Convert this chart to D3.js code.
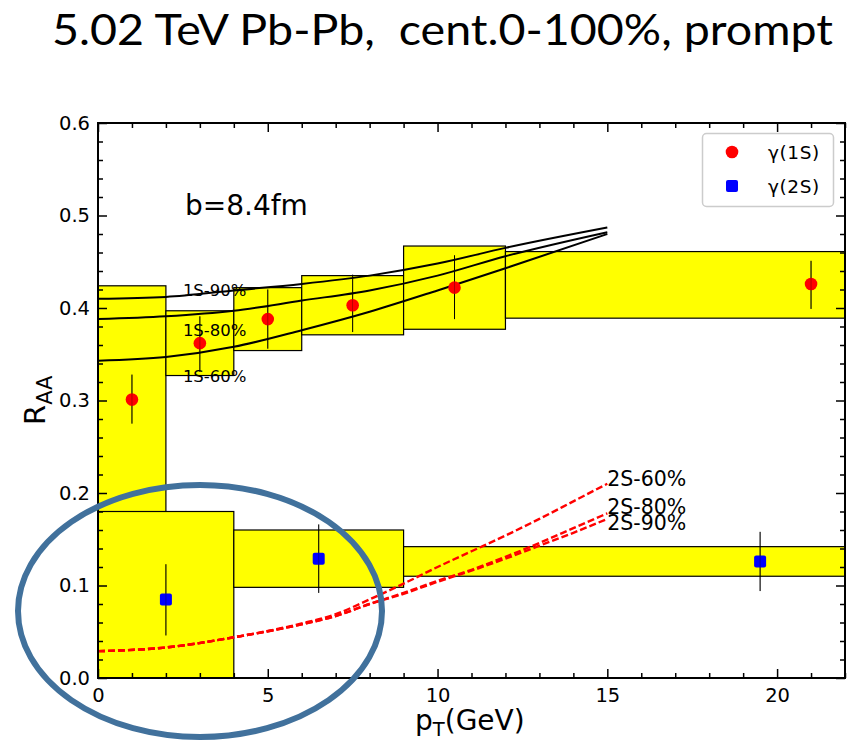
<!DOCTYPE html>
<html>
<head>
<meta charset="utf-8">
<script src="https://cdn.jsdelivr.net/npm/d3@7"></script>
<style>
  html, body { margin: 0; padding: 0; background: #fff; }
  svg text { font-family: "DejaVu Sans", sans-serif; }
</style>
</head>
<body>
<svg id="chart" width="857" height="744"></svg>
<script>
// ---------------- data ----------------
const titleText = "5.02 TeV Pb-Pb,  cent.0-100%, prompt";
const annotation = "b=8.4fm";

// 1S systematic boxes
const box1S_x0 = [0, 2, 4, 6, 9, 12];
const box1S_x1 = [2, 4, 6, 9, 12, 22];
const box1S_lo = [0.179, 0.327, 0.354, 0.371, 0.377, 0.389];
const box1S_hi = [0.424, 0.397, 0.422, 0.435, 0.467, 0.461];

// 2S systematic boxes
const box2S_x0 = [0, 4, 9];
const box2S_x1 = [4, 9, 22];
const box2S_lo = [0.0, 0.098, 0.110];
const box2S_hi = [0.180, 0.160, 0.142];

// 1S points
const pt1S = [1, 3, 5, 7.5, 10.5, 21];
const raa1S = [0.301, 0.362, 0.388, 0.403, 0.422, 0.426];
const err1S_lo = [0.275, 0.331, 0.356, 0.374, 0.388, 0.399];
const err1S_hi = [0.328, 0.391, 0.420, 0.436, 0.457, 0.451];

// 2S points
const pt2S = [2, 6.5, 19.5];
const raa2S = [0.085, 0.129, 0.126];
const err2S_lo = [0.046, 0.092, 0.094];
const err2S_hi = [0.123, 0.166, 0.158];

// model curves
const curve1S_pt = [0, 2, 4, 6, 8, 10, 12, 15];
const curve1S_90 = [0.410, 0.412, 0.419, 0.426, 0.435, 0.448, 0.465, 0.487];
const curve1S_80 = [0.388, 0.391, 0.397, 0.408, 0.419, 0.435, 0.456, 0.482];
const curve1S_60 = [0.343, 0.347, 0.358, 0.376, 0.396, 0.419, 0.443, 0.480];

const curve2S_pt = [0, 2, 4, 6, 7, 8, 9, 10, 11, 12, 13, 14, 15];
const curve2S_60 = [0.029, 0.033, 0.044, 0.059, 0.069, 0.085, 0.102, 0.120, 0.137, 0.154, 0.172, 0.191, 0.210];
const curve2S_80 = [0.029, 0.033, 0.044, 0.058, 0.067, 0.080, 0.092, 0.105, 0.117, 0.131, 0.146, 0.162, 0.178];
const curve2S_90 = [0.029, 0.033, 0.044, 0.058, 0.067, 0.080, 0.091, 0.104, 0.116, 0.129, 0.143, 0.157, 0.172];

const curveLabels1S = ["1S-90%", "1S-80%", "1S-60%"];
const curveLabels2S = ["2S-60%", "2S-80%", "2S-90%"];
const legendLabels = ["γ(1S)", "γ(2S)"];

const xMajor = [0, 5, 10, 15, 20];
const yMajor = [0.0, 0.1, 0.2, 0.3, 0.4, 0.5, 0.6];

// ---------------- layout ----------------
const L = 98, R = 845, T = 123, B = 678;
const svg = d3.select("#chart");
const x = d3.scaleLinear().domain([0, 22]).range([L, R]);
const y = d3.scaleLinear().domain([0, 0.6]).range([B, T]);

// title
svg.append("text")
  .attr("x", 52).attr("y", 45)
  .attr("textLength", 781).attr("lengthAdjust", "spacingAndGlyphs")
  .style("font-family", "Lato, 'Open Sans', sans-serif")
  .style("font-size", "42px")
  .style("white-space", "pre")
  .attr("fill", "#000")
  .text(titleText);

const plot = svg.append("g");
plot.append("clipPath").attr("id", "clip")
  .append("rect").attr("x", L).attr("y", T).attr("width", R - L).attr("height", B - T);
const inner = plot.append("g").attr("clip-path", "url(#clip)");

// boxes
const boxes1S = box1S_x0.map((d, i) => ({x0: d, x1: box1S_x1[i], lo: box1S_lo[i], hi: box1S_hi[i]}));
const boxes2S = box2S_x0.map((d, i) => ({x0: d, x1: box2S_x1[i], lo: box2S_lo[i], hi: box2S_hi[i]}));
inner.selectAll("rect.b1").data(boxes1S).join("rect").attr("class", "b1")
  .attr("x", d => x(d.x0)).attr("y", d => y(d.hi))
  .attr("width", d => x(d.x1) - x(d.x0)).attr("height", d => y(d.lo) - y(d.hi))
  .attr("fill", "#ffff00").attr("stroke", "#000").attr("stroke-width", 1.2);
inner.selectAll("rect.b2").data(boxes2S).join("rect").attr("class", "b2")
  .attr("x", d => x(d.x0)).attr("y", d => y(d.hi))
  .attr("width", d => x(d.x1) - x(d.x0)).attr("height", d => y(d.lo) - y(d.hi))
  .attr("fill", "#ffff00").attr("stroke", "#000").attr("stroke-width", 1.2);

// curves
const line = d3.line().x(d => x(d[0])).y(d => y(d[1])).curve(d3.curveMonotoneX);
[curve1S_90, curve1S_80, curve1S_60].forEach(c => {
  inner.append("path").datum(curve1S_pt.map((p, i) => [p, c[i]]))
    .attr("d", line).attr("fill", "none").attr("stroke", "#000").attr("stroke-width", 2);
});
[curve2S_60, curve2S_80, curve2S_90].forEach(c => {
  inner.append("path").datum(curve2S_pt.map((p, i) => [p, c[i]]))
    .attr("d", line).attr("fill", "none").attr("stroke", "#ff0000").attr("stroke-width", 2.4)
    .attr("stroke-dasharray", "7,3");
});

// error bars + markers
const p1 = pt1S.map((d, i) => ({x: d, v: raa1S[i], lo: err1S_lo[i], hi: err1S_hi[i]}));
const p2 = pt2S.map((d, i) => ({x: d, v: raa2S[i], lo: err2S_lo[i], hi: err2S_hi[i]}));
inner.selectAll("line.e1").data(p1.concat(p2)).join("line").attr("class", "e1")
  .attr("x1", d => x(d.x)).attr("x2", d => x(d.x))
  .attr("y1", d => y(d.lo)).attr("y2", d => y(d.hi))
  .attr("stroke", "#000").attr("stroke-width", 1);
inner.selectAll("circle.m1").data(p1).join("circle").attr("class", "m1")
  .attr("cx", d => x(d.x)).attr("cy", d => y(d.v)).attr("r", 6.3).attr("fill", "#ff0000");
inner.selectAll("rect.m2").data(p2).join("rect").attr("class", "m2")
  .attr("x", d => x(d.x) - 6).attr("y", d => y(d.v) - 6)
  .attr("width", 12).attr("height", 12).attr("rx", 2).attr("fill", "#0000ff");
inner.selectAll("line.e2").data(p1.concat(p2)).join("line").attr("class", "e2")
  .attr("x1", d => x(d.x)).attr("x2", d => x(d.x))
  .attr("y1", d => y(d.lo)).attr("y2", d => y(d.hi))
  .attr("stroke", "#000").attr("stroke-width", 0.6).attr("opacity", 0.5);

// axes (ticks inward)
function styleAxis(g) {
  g.select(".domain").remove();
  g.selectAll(".tick line").attr("stroke", "#000").attr("stroke-width", 1.5);
  g.selectAll(".tick text").style("font-family", "'DejaVu Sans', sans-serif").style("font-size", "19.5px").attr("fill", "#000");
}
const xMinor = d3.range(0, 23, 1).filter(v => v % 5 !== 0);
const yMinor = d3.range(0, 31, 1).map(v => v / 50).filter((v, i) => i % 5 !== 0);

plot.append("g").attr("transform", `translate(0,${B})`)
  .call(d3.axisBottom(x).tickValues(xMajor).tickFormat(d3.format("d")).tickSizeInner(-9).tickSizeOuter(0).tickPadding(10))
  .call(styleAxis);
plot.append("g").attr("transform", `translate(0,${B})`)
  .call(d3.axisBottom(x).tickValues(xMinor).tickFormat("").tickSizeInner(-5).tickSizeOuter(0))
  .call(styleAxis);
plot.append("g").attr("transform", `translate(0,${T})`)
  .call(d3.axisTop(x).tickValues(xMajor).tickFormat("").tickSizeInner(-9).tickSizeOuter(0))
  .call(styleAxis);
plot.append("g").attr("transform", `translate(0,${T})`)
  .call(d3.axisTop(x).tickValues(xMinor).tickFormat("").tickSizeInner(-5).tickSizeOuter(0))
  .call(styleAxis);
plot.append("g").attr("transform", `translate(${L},0)`)
  .call(d3.axisLeft(y).tickValues(yMajor).tickFormat(d3.format(".1f")).tickSizeInner(-9).tickSizeOuter(0).tickPadding(8))
  .call(styleAxis);
plot.append("g").attr("transform", `translate(${L},0)`)
  .call(d3.axisLeft(y).tickValues(yMinor).tickFormat("").tickSizeInner(-5).tickSizeOuter(0))
  .call(styleAxis);
plot.append("g").attr("transform", `translate(${R},0)`)
  .call(d3.axisRight(y).tickValues(yMajor).tickFormat("").tickSizeInner(-9).tickSizeOuter(0))
  .call(styleAxis);
plot.append("g").attr("transform", `translate(${R},0)`)
  .call(d3.axisRight(y).tickValues(yMinor).tickFormat("").tickSizeInner(-5).tickSizeOuter(0))
  .call(styleAxis);

plot.append("rect").attr("x", L).attr("y", T).attr("width", R - L).attr("height", B - T)
  .attr("fill", "none").attr("stroke", "#000").attr("stroke-width", 2);

// curve labels
const lab1Y = [0.4125, 0.3695, 0.3195];
curveLabels1S.forEach((t, i) => {
  plot.append("text").attr("x", x(2.5)).attr("y", y(lab1Y[i]))
    .style("font-size", "16.5px").attr("fill", "#000").text(t);
});
const lab2Y = [0.2075, 0.1775, 0.1595];
curveLabels2S.forEach((t, i) => {
  plot.append("text").attr("x", x(15)).attr("y", y(lab2Y[i]))
    .style("font-size", "20.5px").attr("fill", "#000").text(t);
});

// annotation
plot.append("text").attr("x", 185).attr("y", 215)
  .style("font-size", "28px").attr("fill", "#000").text(annotation);

// legend
const lg = svg.append("g");
lg.append("rect").attr("x", 702.5).attr("y", 133.5).attr("width", 131).attr("height", 73)
  .attr("rx", 4).attr("fill", "#fff").attr("fill-opacity", 0.85).attr("stroke", "#cccccc").attr("stroke-width", 1.5);
lg.append("circle").attr("cx", 732).attr("cy", 152).attr("r", 6.3).attr("fill", "#ff0000");
lg.append("rect").attr("x", 726).attr("y", 180).attr("width", 12).attr("height", 12).attr("rx", 2).attr("fill", "#0000ff");
legendLabels.forEach((t, i) => {
  lg.append("text").attr("x", 768).attr("y", 159 + i * 34)
    .style("font-size", "18.5px").style("letter-spacing", "0.6px").attr("fill", "#000").text(t);
});

// axis labels
const xl = svg.append("text").attr("x", 415).attr("y", 730).style("font-size", "28px").attr("fill", "#000");
xl.append("tspan").text("p");
xl.append("tspan").attr("dy", 6).style("font-size", "19.5px").text("T");
xl.append("tspan").attr("dy", -6).text("(GeV)");

const yl = svg.append("text").attr("transform", "translate(45,425) rotate(-90)").style("font-size", "29px").attr("fill", "#000");
yl.append("tspan").text("R");
yl.append("tspan").attr("dy", 7).style("font-size", "21px").text("AA");

// highlight ellipse
svg.append("ellipse").attr("cx", 200).attr("cy", 611).attr("rx", 182).attr("ry", 126)
  .attr("fill", "none").attr("stroke", "#41719c").attr("stroke-width", 6);
</script>
</body>
</html>
